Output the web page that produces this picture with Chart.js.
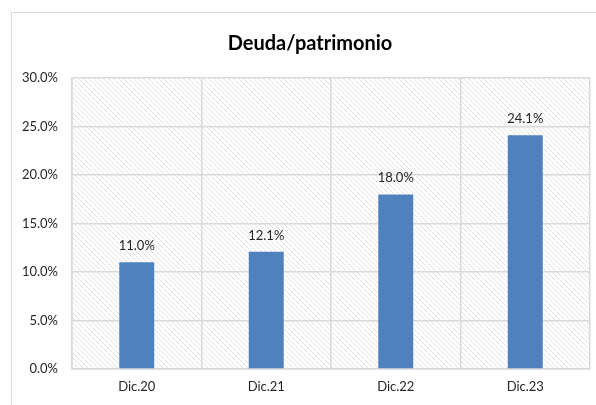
<!DOCTYPE html>
<html>
<head>
<meta charset="utf-8">
<script src="https://cdn.jsdelivr.net/npm/chart.js@4"></script>
<style>
  html, body { margin: 0; padding: 0; background: #fff; }
  #wrap { position: relative; width: 596px; height: 405px; }
</style>
</head>
<body>
<div id="wrap"><canvas id="debt-chart" width="596" height="405"></canvas></div>
<script>
// Chart data
const chartTitle = 'Deuda/patrimonio';
const periods = ['Dic.20', 'Dic.21', 'Dic.22', 'Dic.23'];
const debtToEquity = [11.0, 12.1, 18.0, 24.1];
const yTicks = [0, 5, 10, 15, 20, 25, 30];

const FONT = 'Lato, "Open Sans", sans-serif';

// diagonal hatch used behind the bars
function makeHatch(ctx) {
  const c = document.createElement('canvas');
  c.width = 5; c.height = 5;
  const p = c.getContext('2d');
  p.strokeStyle = '#e2e2e2';
  p.lineWidth = 1;
  p.beginPath();
  p.moveTo(-1, -1); p.lineTo(6, 6);
  p.moveTo(-1, 4); p.lineTo(1, 6);
  p.moveTo(4, -1); p.lineTo(6, 1);
  p.stroke();
  return ctx.createPattern(c, 'repeat');
}

// frame, hatched plot area and the title
const backgroundPlugin = {
  id: 'background',
  beforeDraw(chart) {
    const { ctx, chartArea } = chart;
    ctx.save();
    ctx.strokeStyle = '#d9d9d9';
    ctx.lineWidth = 1;
    ctx.strokeRect(11.5, 12.5, 700, 500);
    ctx.fillStyle = makeHatch(ctx);
    ctx.fillRect(chartArea.left, chartArea.top, chartArea.right - chartArea.left, chartArea.bottom - chartArea.top);
    ctx.font = 'bold 20px ' + FONT;
    ctx.fillStyle = '#000';
    ctx.textAlign = 'center';
    ctx.textBaseline = 'alphabetic';
    ctx.fillText(chartTitle, 310, 50);
    ctx.restore();
  }
};

// value labels above each bar
const valueLabels = {
  id: 'valueLabels',
  afterDatasetsDraw(chart) {
    const { ctx } = chart;
    const meta = chart.getDatasetMeta(0);
    ctx.save();
    ctx.font = '13px ' + FONT;
    ctx.fillStyle = '#262626';
    ctx.textAlign = 'center';
    ctx.textBaseline = 'alphabetic';
    meta.data.forEach((bar, i) => {
      ctx.fillText(debtToEquity[i].toFixed(1) + '%', bar.x, bar.y - 12);
    });
    ctx.restore();
  }
};

new Chart(document.getElementById('debt-chart'), {
  type: 'bar',
  data: {
    labels: periods,
    datasets: [{
      label: chartTitle,
      data: debtToEquity,
      backgroundColor: '#4f81bd',
      borderWidth: 0,
      categoryPercentage: 1,
      barPercentage: 0.27
    }]
  },
  options: {
    responsive: false,
    animation: false,
    layout: { padding: { left: 0, right: 6, top: 78, bottom: 0 } },
    plugins: {
      legend: { display: false },
      tooltip: { enabled: false },
      title: { display: false }
    },
    scales: {
      x: {
        grid: { color: '#d9d9d9', lineWidth: 1.5, offset: true, drawTicks: false },
        border: { color: '#d9d9d9', width: 1.5 },
        ticks: { color: '#262626', font: { family: FONT, size: 13 }, padding: 10 },
        afterFit(scale) { scale.height = 36; }
      },
      y: {
        min: 0,
        max: 30,
        afterBuildTicks(scale) { scale.ticks = yTicks.map(v => ({ value: v })); },
        grid: { color: '#d9d9d9', lineWidth: 1.5, drawTicks: false },
        border: { color: '#d9d9d9', width: 1.5 },
        ticks: {
          color: '#262626',
          font: { family: FONT, size: 13 },
          padding: 14,
          callback: v => v.toFixed(1) + '%'
        },
        afterFit(scale) { scale.width = 72; }
      }
    }
  },
  plugins: [backgroundPlugin, valueLabels]
});
</script>
</body>
</html>
